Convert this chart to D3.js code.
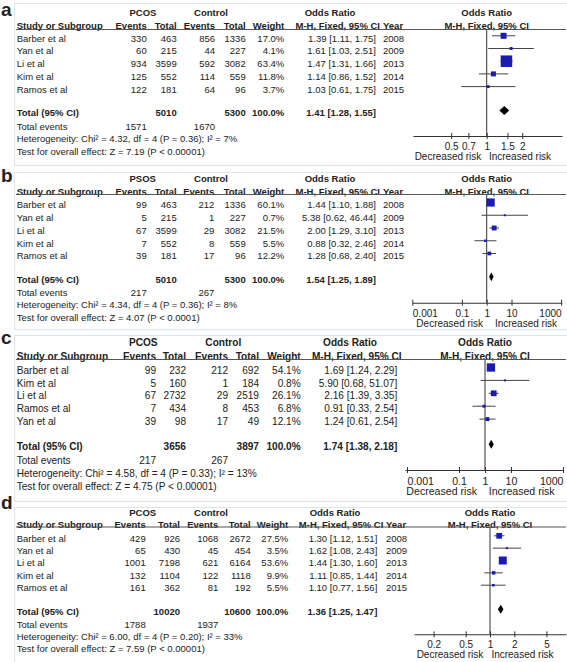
<!DOCTYPE html>
<html><head><meta charset="utf-8">
<script src="https://cdn.jsdelivr.net/npm/d3@7"></script>
<style>
body{margin:0;background:#fff}
text{font-family:"Liberation Sans",Arial,Helvetica,sans-serif;fill:#222}
</style>
</head><body>
<svg id="chart" width="567" height="662"></svg>
<script>
// ---------- DATA ----------
// Panel a
const studiesA = ["Barber et al","Yan et al","Li et al","Kim et al","Ramos et al"];
const pcosEventsA = [330,60,934,125,122];
const pcosTotalA = [463,215,3599,552,181];
const ctrlEventsA = [856,44,592,114,64];
const ctrlTotalA = [1336,227,3082,559,96];
const weightA = [17.0,4.1,63.4,11.8,3.7];
const orA = [1.39,1.61,1.47,1.14,1.03];
const loA = [1.11,1.03,1.31,0.86,0.61];
const hiA = [1.75,2.51,1.66,1.52,1.75];
const yearsA = [2008,2009,2013,2014,2015];
const totalsA = [5010,5300,1571,1670];      // pcos total, ctrl total, pcos events, ctrl events
const pooledA = [1.41,1.28,1.55];
const hetA = "Heterogeneity: Chi² = 4.32, df = 4 (P = 0.36); I² = 7%";
const testA = "Test for overall effect: Z = 7.19 (P < 0.00001)";
const ticksA = [0.5,0.7,1,1.5,2];

// Panel b
const studiesB = ["Barber et al","Yan et al","Li et al","Kim et al","Ramos et al"];
const pcosEventsB = [99,5,67,7,39];
const pcosTotalB = [463,215,3599,552,181];
const ctrlEventsB = [212,1,29,8,17];
const ctrlTotalB = [1336,227,3082,559,96];
const weightB = [60.1,0.7,21.5,5.5,12.2];
const orB = [1.44,5.38,2.00,0.88,1.28];
const loB = [1.10,0.62,1.29,0.32,0.68];
const hiB = [1.88,46.44,3.10,2.46,2.40];
const yearsB = [2008,2009,2013,2014,2015];
const totalsB = [5010,5300,217,267];
const pooledB = [1.54,1.25,1.89];
const hetB = "Heterogeneity: Chi² = 4.34, df = 4 (P = 0.36); I² = 8%";
const testB = "Test for overall effect: Z = 4.07 (P < 0.0001)";
const ticksB = [0.001,0.1,1,10,1000];

// Panel c
const studiesC = ["Barber et al","Kim et al","Li et al","Ramos et al","Yan et al"];
const pcosEventsC = [99,5,67,7,39];
const pcosTotalC = [232,160,2732,434,98];
const ctrlEventsC = [212,1,29,8,17];
const ctrlTotalC = [692,184,2519,453,49];
const weightC = [54.1,0.8,26.1,6.8,12.1];
const orC = [1.69,5.90,2.16,0.91,1.24];
const loC = [1.24,0.68,1.39,0.33,0.61];
const hiC = [2.29,51.07,3.35,2.54,2.54];
const totalsC = [3656,3897,217,267];
const pooledC = [1.74,1.38,2.18];
const hetC = "Heterogeneity: Chi² = 4.58, df = 4 (P = 0.33); I² = 13%";
const testC = "Test for overall effect: Z = 4.75 (P < 0.00001)";
const ticksC = [0.001,0.1,1,10,1000];

// Panel d
const studiesD = ["Barber et al","Yan et al","Li et al","Kim et al","Ramos et al"];
const pcosEventsD = [429,65,1001,132,161];
const pcosTotalD = [926,430,7198,1104,362];
const ctrlEventsD = [1068,45,621,122,81];
const ctrlTotalD = [2672,454,6164,1118,192];
const weightD = [27.5,3.5,53.6,9.9,5.5];
const orD = [1.30,1.62,1.44,1.11,1.10];
const loD = [1.12,1.08,1.30,0.85,0.77];
const hiD = [1.51,2.43,1.60,1.44,1.56];
const yearsD = [2008,2009,2013,2014,2015];
const totalsD = [10020,10600,1788,1937];
const pooledD = [1.36,1.25,1.47];
const hetD = "Heterogeneity: Chi² = 6.00, df = 4 (P = 0.20); I² = 33%";
const testD = "Test for overall effect: Z = 7.59 (P < 0.00001)";
const ticksD = [0.2,0.5,1,2,5];

// ---------- PANELS (data + layout) ----------
const panels = [
 {letter:"a", group1:"PCOS", studies:studiesA, pe:pcosEventsA, pt:pcosTotalA, ce:ctrlEventsA, ct:ctrlTotalA, w:weightA,
  or:orA, lo:loA, hi:hiA, years:yearsA, totals:totalsA, pooled:pooledA, het:hetA, test:testA, ticks:ticksA,
  L:{fs:9.5, frame:[3,165], letterY:16, grpY:13, hdrY:25.5, lineY:29.5, row0:38.3, step:12.7, totY:113, teY:126.7, hetY:138.7, testY:151.5,
     cols:[146.7,176.7,215,245.7,284.3], g1X:143, g2X:211, orHdrX:330, mhRight:380, ciRight:376, yearX:383,
     one:486.7, dec:118, axL:413, axR:562, axY:136, tickY:146.7, riskY:157, decX:448, incX:520, k:1.45, inward:false}},
 {letter:"b", group1:"PSOS", studies:studiesB, pe:pcosEventsB, pt:pcosTotalB, ce:ctrlEventsB, ct:ctrlTotalB, w:weightB,
  or:orB, lo:loB, hi:hiB, years:yearsB, totals:totalsB, pooled:pooledB, het:hetB, test:testB, ticks:ticksB,
  L:{fs:9.5, frame:[172,329], letterY:182, grpY:179, hdrY:191.7, lineY:194.5, row0:205, step:12.75, totY:279.2, teY:292.5, hetY:304.5, testY:317.3,
     cols:[146.7,176.7,214.3,245.7,284.3], g1X:142.7, g2X:211, orHdrX:330, mhRight:380, ciRight:376, yearX:383,
     one:486.7, dec:24.8, axL:412.3, axR:561.7, axY:302.7, tickY:313.3, riskY:324, decX:449.7, incX:526, k:1.05, inward:true}},
 {letter:"c", group1:"PCOS", studies:studiesC, pe:pcosEventsC, pt:pcosTotalC, ce:ctrlEventsC, ct:ctrlTotalC, w:weightC,
  or:orC, lo:loC, hi:hiC, years:null, totals:totalsC, pooled:pooledC, het:hetC, test:testC, ticks:ticksC,
  L:{fs:10.1, frame:[335,501], letterY:344, grpY:342.3, hdrY:356.7, lineY:359.5, row0:370, step:12.9, totY:446.7, teY:460, hetY:473.3, testY:486.7,
     cols:[156,186,228,259,300.7], g1X:143.3, g2X:223.3, orHdrX:350, mhRight:401.7, ciRight:397.3, yearX:null,
     one:485, dec:26, axL:405, axR:563.3, axY:470, tickY:481, riskY:491.7, decX:441.7, incX:521.7, k:1.13, inward:true}},
 {letter:"d", group1:"PCOS", studies:studiesD, pe:pcosEventsD, pt:pcosTotalD, ce:ctrlEventsD, ct:ctrlTotalD, w:weightD,
  or:orD, lo:loD, hi:hiD, years:yearsD, totals:totalsD, pooled:pooledD, het:hetD, test:testD, ticks:ticksD,
  L:{fs:9.5, frame:[507,664], letterY:509, grpY:512.7, hdrY:524.3, lineY:527, row0:538.3, step:12.35, totY:611.7, teY:625, hetY:636.7, testY:648.3,
     cols:[145.7,180,218.3,250.7,288.3], g1X:142.7, g2X:211, orHdrX:335, mhRight:383.3, ciRight:377.3, yearX:386,
     one:490, dec:80.7, axL:414, axR:566, axY:634.3, tickY:645, riskY:655, decX:450, incX:522.5, k:1.09, inward:false}}
];

const svg = d3.select("#chart");
const BOX = "#1a1ab4", INK = "#333";
const fmtCI = (o,l,h) => `${o.toFixed(2)} [${l.toFixed(2)}, ${h.toFixed(2)}]`;

panels.forEach(p => {
  const L = p.L;
  const g = svg.append("g");
  const bl = L.fs * 0.36; // baseline offset from visual centre

  // frame
  g.append("rect").attr("x",14.5).attr("y",L.frame[0]+0.5).attr("width",560).attr("height",L.frame[1]-L.frame[0])
    .attr("fill","none").attr("stroke","#dfe5ea").attr("stroke-width",1.2);

  const txt = (s,x,y,anchor,bold,size) => g.append("text").attr("x",x).attr("y",y+bl)
      .attr("text-anchor",anchor||"start").attr("font-size",size||L.fs).attr("font-weight",bold?"bold":"normal").text(s);

  // panel letter
  g.append("text").attr("x",1).attr("y",L.letterY).attr("font-size",19).attr("font-weight","bold").attr("fill","#000").text(p.letter);

  // group headers
  txt(p.group1, L.g1X, L.grpY, "middle", true);
  txt("Control", L.g2X, L.grpY, "middle", true);
  txt("Odds Ratio", L.orHdrX, L.grpY, "middle", true);
  txt("Odds Ratio", L.one, L.grpY, "middle", true);

  // column headers
  txt("Study or Subgroup", 16.7, L.hdrY, "start", true);
  ["Events","Total","Events","Total","Weight"].forEach((h,i)=> txt(h, L.cols[i], L.hdrY, "end", true));
  txt("M-H, Fixed, 95% CI", L.mhRight, L.hdrY, "end", true);
  if (p.years) txt("Year", L.yearX, L.hdrY, "start", true);
  txt("M-H, Fixed, 95% CI", L.one, L.hdrY, "middle", true);

  g.append("line").attr("x1",16).attr("x2",566).attr("y1",L.lineY).attr("y2",L.lineY)
    .attr("stroke","#555").attr("stroke-width",1.1);

  // scale
  const dLo = Math.pow(10,(L.axL-L.one)/L.dec), dHi = Math.pow(10,(L.axR-L.one)/L.dec);
  const x = d3.scaleLog().domain([dLo,dHi]).range([L.axL,L.axR]);

  // study rows
  p.studies.forEach((s,i)=>{
    const y = L.row0 + i*L.step;
    txt(s, 16.7, y);
    [p.pe[i],p.pt[i],p.ce[i],p.ct[i]].forEach((v,j)=>txt(String(v), L.cols[j], y, "end"));
    txt(p.w[i].toFixed(1)+"%", L.cols[4], y, "end");
    txt(fmtCI(p.or[i],p.lo[i],p.hi[i]), L.ciRight, y, "end");
    if (p.years) txt(String(p.years[i]), L.yearX, y, "start");
  });

  // totals
  txt("Total (95% CI)", 16.7, L.totY, "start", true);
  txt(String(p.totals[0]), L.cols[1], L.totY, "end", true);
  txt(String(p.totals[1]), L.cols[3], L.totY, "end", true);
  txt("100.0%", L.cols[4], L.totY, "end", true);
  txt(fmtCI(p.pooled[0],p.pooled[1],p.pooled[2]), L.ciRight, L.totY, "end", true);
  txt("Total events", 16.7, L.teY);
  txt(String(p.totals[2]), L.cols[0], L.teY, "end");
  txt(String(p.totals[3]), L.cols[2], L.teY, "end");
  txt(p.het, 16.7, L.hetY);
  txt(p.test, 16.7, L.testY);

  // null line
  g.append("line").attr("x1",x(1)).attr("x2",x(1)).attr("y1",L.lineY).attr("y2",L.axY)
    .attr("stroke",INK).attr("stroke-width",1);

  // whiskers and boxes
  p.studies.forEach((s,i)=>{
    const y = L.row0 + i*L.step - 2.5;
    g.append("line").attr("x1",x(p.lo[i])).attr("x2",x(p.hi[i])).attr("y1",y).attr("y2",y)
      .attr("stroke","#444").attr("stroke-width",1);
    const sz = Math.max(2, L.k*Math.sqrt(p.w[i]));
    g.append("rect").attr("x",x(p.or[i])-sz/2).attr("y",y-sz/2).attr("width",sz).attr("height",sz).attr("fill",BOX);
  });

  // diamond
  const dy = L.totY - 2.5;
  g.append("path").attr("d",`M${x(p.pooled[1])},${dy}L${x(p.pooled[0])},${dy-4.5}L${x(p.pooled[2])},${dy}L${x(p.pooled[0])},${dy+4.5}Z`)
    .attr("fill","#000");

  // axis
  const ax = g.append("g").attr("transform",`translate(0,${L.axY})`)
    .call(d3.axisBottom(x).tickValues(p.ticks).tickFormat(d=>String(d)).tickSizeOuter(0).tickSizeInner(3));
  ax.select(".domain").attr("stroke",INK).attr("stroke-width",1.1);
  ax.selectAll(".tick line").attr("y1",-3).attr("y2",3).attr("stroke",INK);
  const n = p.ticks.length;
  ax.selectAll(".tick text").attr("y",L.tickY-L.axY+bl).attr("dy",null)
    .attr("font-size",L.fs+0.5).attr("font-family","Liberation Sans, Arial, sans-serif").attr("fill","#222")
    .attr("text-anchor",(d,i)=> L.inward ? (i===0 ? "start" : (i===n-1 ? "end" : "middle")) : "middle");
  txt("Decreased risk", L.decX, L.riskY, "middle", false, L.fs+0.5);
  txt("Increased risk", L.incX, L.riskY, "middle", false, L.fs+0.5);
});
</script>
</body></html>
